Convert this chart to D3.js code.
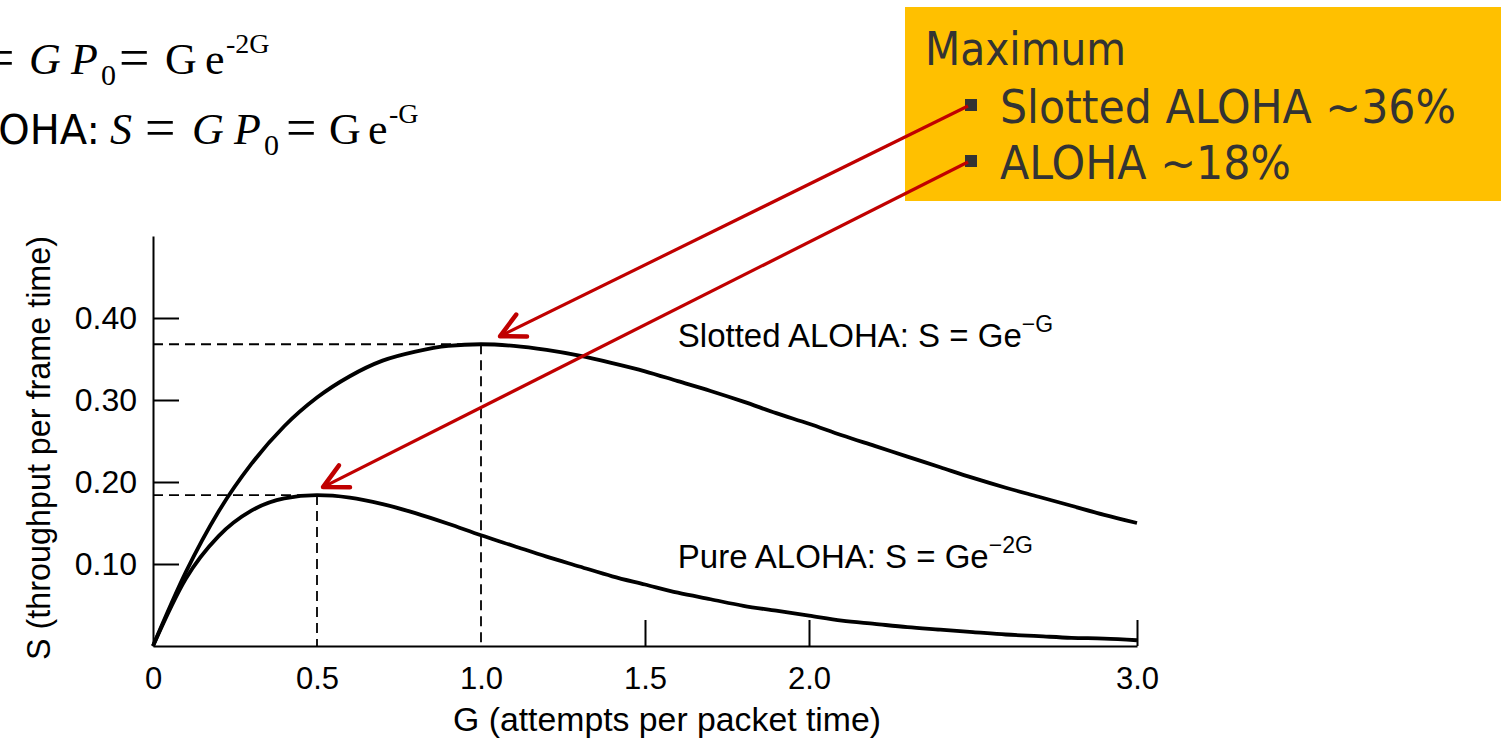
<!DOCTYPE html>
<html>
<head>
<meta charset="utf-8">
<script src="https://cdn.jsdelivr.net/npm/d3@7"></script>
<style>
  html, body { margin: 0; padding: 0; background: #fff; overflow: hidden; }
  svg { display: block; }
  .axis path, .axis line { stroke: #000; stroke-width: 2; }
  .axis text { font-family: "Liberation Sans", Arial, sans-serif; fill: #000; }
</style>
</head>
<body>
<div id="chart"></div>
<script>
// G values (attempts per packet time) and throughput
const gValues = [0, 0.1, 0.2, 0.3, 0.4, 0.5, 0.6, 0.7, 0.8, 0.9, 1.0,
                 1.1, 1.2, 1.3, 1.4, 1.5, 1.6, 1.7, 1.8, 1.9, 2.0,
                 2.1, 2.2, 2.3, 2.4, 2.5, 2.6, 2.7, 2.8, 2.9, 3.0];
const slottedValues = [0, 0.090, 0.164, 0.222, 0.268, 0.303, 0.329, 0.348, 0.359, 0.366, 0.368,
                       0.366, 0.361, 0.354, 0.345, 0.335, 0.323, 0.311, 0.298, 0.284, 0.271,
                       0.257, 0.244, 0.231, 0.218, 0.205, 0.193, 0.182, 0.171, 0.160, 0.150];
const pureValues = [0, 0.082, 0.134, 0.165, 0.180, 0.184, 0.181, 0.173, 0.162, 0.149, 0.135,
                    0.122, 0.109, 0.097, 0.085, 0.075, 0.065, 0.057, 0.049, 0.043, 0.037,
                    0.031, 0.027, 0.023, 0.020, 0.017, 0.014, 0.012, 0.010, 0.009, 0.007];

// maxima marked with dashed lines
const peakG = [1.0, 0.5];
const peakS = [0.368, 0.184];

const xTickValues = [0, 0.5, 1.0, 1.5, 2.0, 3.0];
const xInnerTicks = [1.5, 2.0, 3.0];
const yTickValues = [0.10, 0.20, 0.30, 0.40];

const boxTitle = 'Maximum';
const boxItems = ['Slotted ALOHA ~36%', 'ALOHA ~18%'];

const W = 1501, H = 741;
const svg = d3.select('#chart').append('svg')
    .attr('width', W)
    .attr('height', H);

const x = d3.scaleLinear().domain([0, 3]).range([153, 1137]);
const y = d3.scaleLinear().domain([0, 0.5]).range([646, 236]);

// formulas at top left (partly cut off by the page edge)
const serif = '"Liberation Serif", "Times New Roman", serif';
function formula(parts, baseline) {
    const t = svg.append('text')
        .attr('y', baseline)
        .style('font-family', serif)
        .style('font-size', '44px')
        .style('fill', '#000');
    parts.forEach(p => {
        t.append('tspan')
            .attr('x', p.x)
            .attr('y', baseline + (p.dy || 0))
            .style('font-size', p.size ? p.size + 'px' : null)
            .style('font-style', p.italic ? 'italic' : null)
            .style('font-family', p.sans ? '"DejaVu Sans", Tahoma, sans-serif' : null)
            .attr('text-anchor', p.anchor || null)
            .text(p.t);
    });
}
formula([
    { t: '=', x: -16, size: 54, dy: 2 },
    { t: 'G', x: 29, italic: true },
    { t: 'P', x: 71, italic: true },
    { t: '0', x: 101, dy: 11, size: 30 },
    { t: '=', x: 119, size: 54, dy: 2 },
    { t: 'G', x: 165 },
    { t: 'e', x: 205 },
    { t: '-2G', x: 226, dy: -21, size: 28 }
], 74);
formula([
    { t: 'Slotted ALOHA:', x: 100, sans: true, anchor: 'end', size: 40 },
    { t: 'S', x: 110, italic: true },
    { t: '=', x: 145, size: 54, dy: 2 },
    { t: 'G', x: 192, italic: true },
    { t: 'P', x: 234, italic: true },
    { t: '0', x: 264, dy: 11, size: 30 },
    { t: '=', x: 286, size: 54, dy: 2 },
    { t: 'G', x: 329 },
    { t: 'e', x: 368 },
    { t: '-G', x: 389, dy: -21, size: 28 }
], 144);

// axes
const axisFont = '"Liberation Sans", Arial, sans-serif';
const xAxis = svg.append('g')
    .attr('class', 'axis x-axis')
    .attr('transform', `translate(0,${y(0)})`)
    .call(d3.axisBottom(x)
        .tickValues(xTickValues)
        .tickSize(0)
        .tickSizeOuter(0)
        .tickPadding(21)
        .tickFormat(d => d === 0 ? '0' : d3.format('.1f')(d)));
xAxis.selectAll('.tick text')
    .style('font-size', '31px');

svg.append('g')
    .attr('class', 'axis x-inner')
    .attr('transform', `translate(0,${y(0)})`)
    .call(d3.axisBottom(x)
        .tickValues(xInnerTicks)
        .tickSize(-26)
        .tickSizeOuter(0)
        .tickFormat(''))
    .select('.domain').remove();

const yAxis = svg.append('g')
    .attr('class', 'axis y-axis')
    .attr('transform', `translate(${x(0)},0)`)
    .call(d3.axisLeft(y)
        .tickValues(yTickValues)
        .tickSize(-26)
        .tickSizeOuter(0)
        .tickPadding(16)
        .tickFormat(d3.format('.2f')));
yAxis.selectAll('.tick text')
    .style('font-size', '32px');

// axis titles
svg.append('text')
    .attr('x', 667)
    .attr('y', 731)
    .attr('text-anchor', 'middle')
    .attr('textLength', 428)
    .attr('lengthAdjust', 'spacingAndGlyphs')
    .style('font-family', axisFont)
    .style('font-size', '33px')
    .text('G (attempts per packet time)');

svg.append('text')
    .attr('transform', 'translate(38,448) rotate(-90)')
    .attr('text-anchor', 'middle')
    .attr('dy', '0.35em')
    .attr('textLength', 424)
    .attr('lengthAdjust', 'spacingAndGlyphs')
    .style('font-family', axisFont)
    .style('font-size', '33px')
    .text('S (throughput per frame time)');

// dashed guide lines at the maxima
peakG.forEach((g, i) => {
    svg.append('line')
        .attr('x1', x(0)).attr('x2', x(g))
        .attr('y1', y(peakS[i])).attr('y2', y(peakS[i]))
        .attr('stroke', '#000').attr('stroke-width', 1.8)
        .attr('stroke-dasharray', '10,6');
    svg.append('line')
        .attr('x1', x(g)).attr('x2', x(g))
        .attr('y1', y(peakS[i])).attr('y2', y(0))
        .attr('stroke', '#000').attr('stroke-width', 1.8)
        .attr('stroke-dasharray', '10,6');
});

// curves
const line = d3.line()
    .x((d, i) => x(gValues[i]))
    .y(d => y(d))
    .curve(d3.curveMonotoneX);

[slottedValues, pureValues].forEach(vals => {
    svg.append('path')
        .datum(vals)
        .attr('d', line)
        .attr('fill', 'none')
        .attr('stroke', '#000')
        .attr('stroke-width', 3.8)
        .attr('stroke-linejoin', 'round');
});

// curve labels
function curveLabel(main, sup, g, s) {
    const t = svg.append('text')
        .attr('x', x(g))
        .attr('y', y(s))
        .style('font-family', axisFont)
        .style('font-size', '33px')
        .style('fill', '#000');
    t.append('tspan').text(main);
    t.append('tspan')
        .attr('dy', -15)
        .style('font-size', '23px')
        .text(sup);
}
curveLabel('Slotted ALOHA: S = Ge', '\u2212G', 1.6, 0.365);
curveLabel('Pure ALOHA: S = Ge', '\u22122G', 1.6, 0.095);

// callout box
svg.append('rect')
    .attr('x', 905).attr('y', 7)
    .attr('width', W - 905).attr('height', 194)
    .attr('fill', '#FFC000');

const boxFont = 'Tahoma, "DejaVu Sans", Verdana, sans-serif';
svg.append('text')
    .attr('x', 925).attr('y', 65)
    .attr('textLength', 201)
    .attr('lengthAdjust', 'spacingAndGlyphs')
    .style('font-family', boxFont)
    .style('font-size', '46px')
    .style('fill', '#333')
    .text(boxTitle);

const itemY = [123, 179];
const itemLen = [456, 291];
boxItems.forEach((txt, i) => {
    svg.append('rect')
        .attr('x', 965).attr('y', itemY[i] - 24)
        .attr('width', 12).attr('height', 12)
        .attr('fill', '#333');
    svg.append('text')
        .attr('x', 1000).attr('y', itemY[i])
        .attr('textLength', itemLen[i])
        .attr('lengthAdjust', 'spacingAndGlyphs')
        .style('font-family', boxFont)
        .style('font-size', '46px')
        .style('fill', '#333')
        .text(txt);
});

// red arrows from the bullets to the maxima
const red = '#C00000';
const tips = [
    [x(peakG[0]) + 19, y(peakS[0]) - 8],
    [x(peakG[1]) + 6, y(peakS[1]) - 8]
];
tips.forEach((tip, i) => {
    const start = [968, itemY[i] - 17];
    svg.append('line')
        .attr('x1', start[0]).attr('y1', start[1])
        .attr('x2', tip[0]).attr('y2', tip[1])
        .attr('stroke', red).attr('stroke-width', 3.2);
    const ang = Math.atan2(start[1] - tip[1], start[0] - tip[0]);
    const len = 27, spread = 0.47;
    const p1 = [tip[0] + len * Math.cos(ang + spread), tip[1] + len * Math.sin(ang + spread)];
    const p2 = [tip[0] + len * Math.cos(ang - spread), tip[1] + len * Math.sin(ang - spread)];
    svg.append('path')
        .attr('d', `M${p1[0]},${p1[1]}L${tip[0]},${tip[1]}L${p2[0]},${p2[1]}`)
        .attr('fill', 'none')
        .attr('stroke', red)
        .attr('stroke-width', 4.5)
        .attr('stroke-linecap', 'round')
        .attr('stroke-linejoin', 'round');
});
</script>
</body>
</html>
